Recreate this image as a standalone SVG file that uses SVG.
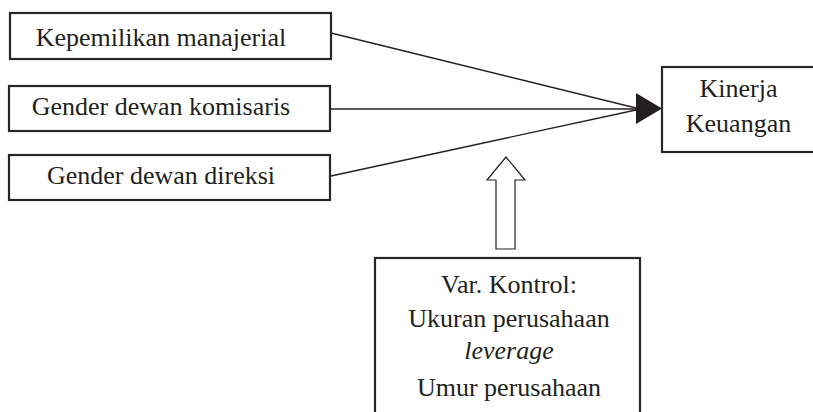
<svg xmlns="http://www.w3.org/2000/svg" width="813" height="412" viewBox="0 0 813 412">
<style>
.box{fill:#fff;stroke:#262626;stroke-width:2.2}
.t{font-family:"Liberation Serif","Times New Roman",serif;font-size:26px;fill:#231f20;text-anchor:middle}
.ln{stroke:#231f20;stroke-width:1.3;fill:none}
</style>
<defs>
<marker id="ah" viewBox="0 0 26 31" refX="26" refY="15.5" markerWidth="26" markerHeight="31" markerUnits="userSpaceOnUse" orient="auto">
<path d="M0,0 L26,15.5 L0,31 Z" fill="#231f20"/>
</marker>
</defs>
<rect width="813" height="412" fill="#fff"/>
<g id="connectors">
<line class="ln" x1="331" y1="33" x2="636" y2="108"/>
<line class="ln" x1="330" y1="109" x2="636" y2="109"/>
<line class="ln" x1="331" y1="176" x2="636" y2="110"/>
<path d="M636,93 L662,108.5 L636,124 Z" fill="#231f20"/>
<path d="M496,249 L496,180 L487,180 L506,157 L525,180 L515,180 L515,249 Z" fill="#fff" stroke="#231f20" stroke-width="1.2"/>
</g>
<g id="n1">
<rect class="box" x="10" y="13" width="321" height="46"/>
<text class="t" x="161" y="46">Kepemilikan manajerial</text>
</g>
<g id="n2">
<rect class="box" x="9" y="86" width="321" height="45"/>
<text class="t" x="161" y="115">Gender dewan komisaris</text>
</g>
<g id="n3">
<rect class="box" x="9" y="155" width="321" height="45"/>
<text class="t" x="161" y="184">Gender dewan direksi</text>
</g>
<g id="n4">
<rect class="box" x="662" y="67" width="160" height="85"/>
<text class="t" x="738.5" y="97">Kinerja</text>
<text class="t" x="738.5" y="132">Keuangan</text>
</g>
<g id="n5">
<rect class="box" x="375" y="258" width="265" height="170"/>
<text class="t" x="509" y="293">Var. Kontrol:</text>
<text class="t" x="509" y="327">Ukuran perusahaan</text>
<text class="t" x="509" y="359" font-style="italic">leverage</text>
<text class="t" x="509" y="396">Umur perusahaan</text>
</g>
</svg>
